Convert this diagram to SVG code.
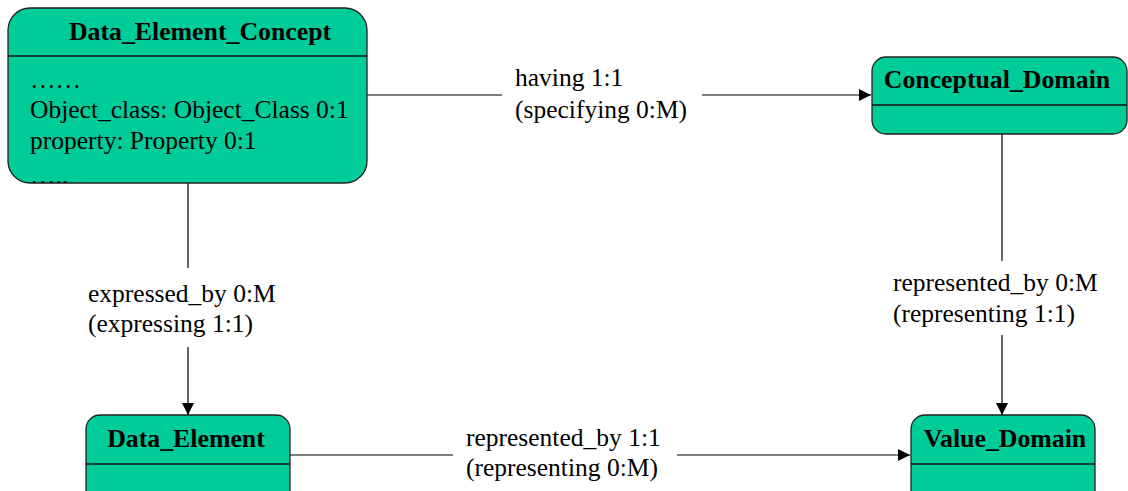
<svg xmlns="http://www.w3.org/2000/svg" width="1128" height="491" viewBox="0 0 1128 491">
<defs>
<style>
.box{fill:#00CC99;stroke:#222;stroke-width:1.3}
.div{stroke:#111;stroke-width:1.3}
.title{font-family:"Liberation Serif",serif;font-size:25.8px;font-weight:bold;fill:#000}
.txt{font-family:"Liberation Serif",serif;font-size:25.5px;fill:#000}
.ln{stroke:#000;stroke-width:1.2;fill:none}
</style>
<marker id="arr" viewBox="0 0 10 10" refX="10" refY="5" markerWidth="14" markerHeight="12" markerUnits="userSpaceOnUse" orient="auto">
<path d="M0,0 L10,5 L0,10 z" fill="#000"/>
</marker>
<clipPath id="decclip"><rect x="8" y="8" width="359" height="175" rx="22"/></clipPath>
</defs>
<g id="connectors">
<line class="ln" x1="367" y1="95" x2="502" y2="95"/>
<line class="ln" x1="702" y1="95" x2="871" y2="95" marker-end="url(#arr)"/>
<line class="ln" x1="188" y1="183" x2="188" y2="268"/>
<line class="ln" x1="188" y1="347" x2="188" y2="415" marker-end="url(#arr)"/>
<line class="ln" x1="1002" y1="134" x2="1002" y2="261"/>
<line class="ln" x1="1002" y1="335" x2="1002" y2="415" marker-end="url(#arr)"/>
<line class="ln" x1="290" y1="455" x2="453" y2="455"/>
<line class="ln" x1="677" y1="455" x2="910" y2="455" marker-end="url(#arr)"/>
<text class="txt" x="515" y="86">having 1:1</text>
<text class="txt" x="515" y="118">(specifying 0:M)</text>
<text class="txt" x="88" y="302">expressed_by 0:M</text>
<text class="txt" x="88" y="332">(expressing 1:1)</text>
<text class="txt" x="893" y="291">represented_by 0:M</text>
<text class="txt" x="893" y="322">(representing 1:1)</text>
<text class="txt" x="466" y="446">represented_by 1:1</text>
<text class="txt" x="466" y="476">(representing 0:M)</text>
</g>
<g id="Data_Element_Concept">
<rect class="box" x="8" y="8" width="359" height="175" rx="22"/>
<line class="div" x1="8" y1="56" x2="367" y2="56"/>
<text class="title" x="200" y="40" text-anchor="middle">Data_Element_Concept</text>
<g clip-path="url(#decclip)">
<text class="txt" x="30" y="88">……</text>
<text class="txt" x="30" y="118">Object_class: Object_Class 0:1</text>
<text class="txt" x="30" y="149">property: Property 0:1</text>
<text class="txt" x="30" y="184">…..</text>
</g>
</g>
<g id="Conceptual_Domain">
<rect class="box" x="872" y="57" width="255" height="77" rx="14"/>
<line class="div" x1="872" y1="105" x2="1127" y2="105"/>
<text class="title" x="997" y="88" text-anchor="middle">Conceptual_Domain</text>
</g>
<g id="Data_Element">
<rect class="box" x="86" y="415" width="204" height="100" rx="14"/>
<line class="div" x1="86" y1="464" x2="290" y2="464"/>
<text class="title" x="186" y="447" text-anchor="middle">Data_Element</text>
</g>
<g id="Value_Domain">
<rect class="box" x="911" y="415" width="184" height="100" rx="14"/>
<line class="div" x1="911" y1="464" x2="1095" y2="464"/>
<text class="title" x="1005" y="447" text-anchor="middle">Value_Domain</text>
</g>
</svg>
